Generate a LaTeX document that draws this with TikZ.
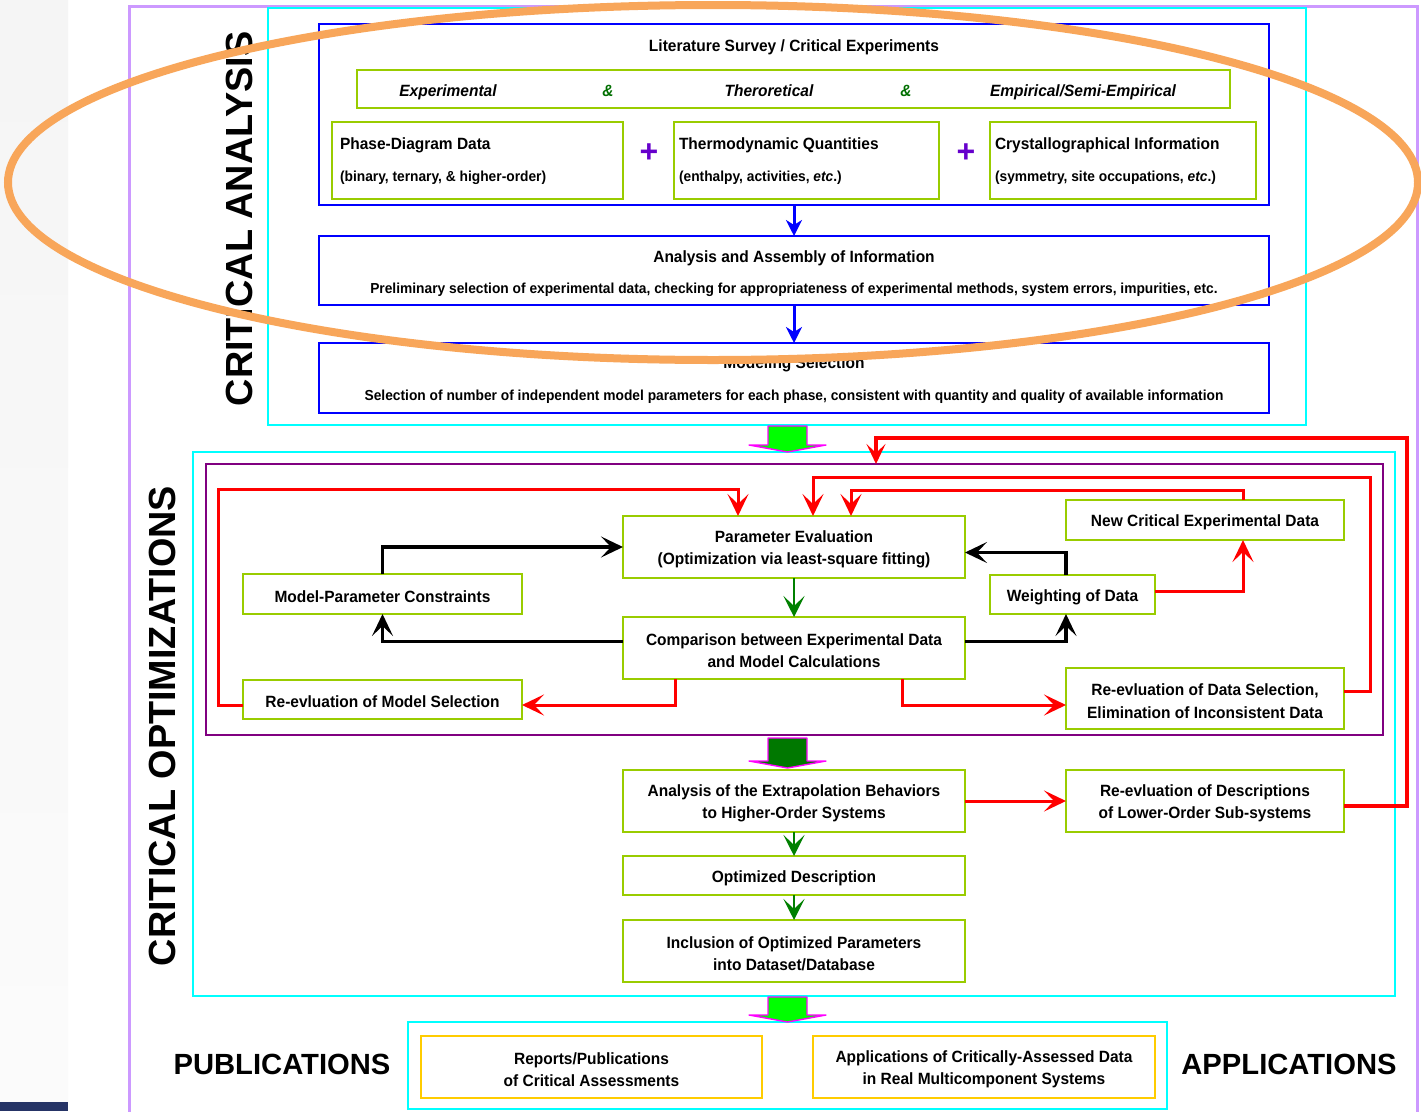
\documentclass[tikz,border=0pt]{standalone}
\usepackage{fontspec}
\setmainfont{Liberation Sans}
\newfontfamily\narrowsans{Liberation Sans}[FakeStretch=0.95]
\usetikzlibrary{calc,arrows.meta}

\definecolor{lavender}{HTML}{CC99FF}
\definecolor{cyanline}{HTML}{00FFFF}
\definecolor{boxblue}{HTML}{0000FF}
\definecolor{lime}{HTML}{99CC00}
\definecolor{plum}{HTML}{800080}
\definecolor{gold}{HTML}{FFCC00}
\definecolor{ringorange}{HTML}{F8A65A}
\definecolor{ampgreen}{HTML}{006F00}
\definecolor{plusviolet}{HTML}{6600CC}
\definecolor{flowgreen}{HTML}{008000}
\definecolor{blockgreen}{HTML}{00FF00}
\definecolor{darkblock}{HTML}{007800}
\definecolor{navybar}{HTML}{263466}
\definecolor{blockedge}{HTML}{FF00FF}

\tikzset{
  every node/.style={inner sep=0pt, outer sep=0pt},
  dims/.style args={#1 by #2}{minimum width=#1pt, minimum height=#2pt},
  boxtext/.style={font=\narrowsans\bfseries\fontsize{16.3}{22.5}\selectfont, align=center, text=black},
  inbox/.style={label={[boxtext, yshift=-2.5pt]center:{#1}}},
  headtext/.style={font=\narrowsans\bfseries\fontsize{16.3}{20}\selectfont, text=black, text height=11.7pt, text depth=0pt},
  smalltext/.style={font=\narrowsans\bfseries\fontsize{14.5}{18}\selectfont, text=black, text height=10.5pt, text depth=0pt},
  ittext/.style={font=\narrowsans\bfseries\itshape\fontsize{16.3}{20}\selectfont, text=black, text height=11.7pt, text depth=0pt},
  amp/.style={ittext, text=ampgreen},
  plussign/.style={font=\bfseries\fontsize{32}{32}\selectfont, text=plusviolet},
  bigtitle/.style={font=\bfseries\fontsize{37.8}{40}\selectfont, text=black, text height=27pt, text depth=0pt},
  sidetitle/.style={font=\bfseries\fontsize{29.2}{32}\selectfont, text=black, text height=21pt, text depth=0pt},
  bluebox/.style={draw=boxblue, line width=2pt},
  limebox/.style={draw=lime, line width=2.2pt, fill=white},
  goldbox/.style={draw=gold, line width=2.2pt},
  cyanframe/.style={draw=cyanline, line width=2pt},
  plumframe/.style={draw=plum, line width=2pt},
  redline/.style={draw=red, line width=3pt, -{Stealth[length=22pt,width=21pt,inset=10pt]}},
  redthick/.style={draw=red, line width=4pt, -{Stealth[length=20pt,width=19pt,inset=9pt]}},
  blkline/.style={draw=black, line width=3.2pt, -{Stealth[length=22pt,width=21pt,inset=10pt]}},
  grnline/.style={draw=flowgreen, line width=2.8pt, -{Stealth[length=21pt,width=21pt,inset=10pt]}},
  blueline/.style={draw=boxblue, line width=3pt, -{Stealth[length=16pt,width=16pt,inset=5pt]}},
  blockshape/.style={draw=blockedge, line width=1.4pt, line join=round},
}

\begin{document}
\begin{tikzpicture}[x=1pt,y=-1pt]
\useasboundingbox (0,0) rectangle (1421,1111);
\clip (0,0) rectangle (1421,1111);
\fill[white] (0,0) rectangle (1421,1111);

% faded slide background at the left edge
\shade[top color=black!4, bottom color=black!1.5] (0,0) rectangle (68,1102);
\fill[navybar] (0,1102) rectangle (68,1111);

% outer frame
\draw[lavender, line width=3pt] (129,1120) -- (129,6) -- (1417,6) -- (1417,1120);

% ---------------- critical analysis ----------------
\node[cyanframe, dims=1038 by 417] (anaframe) at (787,216.5) {};
\node[bigtitle, rotate=90] (anatitle) at (239,219) {CRITICAL ANALYSIS};

\node[bluebox, dims=950 by 181] (blueA) at (794,114.5) {};
\node[headtext] (survey) at (794,46) {Literature Survey / Critical Experiments};
\node[limebox, dims=873 by 38] (kinds) at (793.5,89) {};
\node[ittext] (kexp) at (448,91) {Experimental};
\node[amp] (amp1) at (608,91) {\&};
\node[ittext] (ktheo) at (769,91) {Theroretical};
\node[amp] (amp2) at (906,91) {\&};
\node[ittext] (kemp) at (1083,91) {Empirical/Semi-Empirical};

\node[limebox, dims=291 by 77] (phase) at (477.5,160.5) {};
\node[headtext, anchor=west] (phaseA) at (340,144) {Phase-Diagram Data};
\node[smalltext, anchor=west] (phaseB) at (340,176) {(binary, ternary, \& higher-order)};
\node[plussign] (plus1) at (649,153) {+};
\node[limebox, dims=265 by 77] (thermo) at (806.5,160.5) {};
\node[headtext, anchor=west] (thermoA) at (679,144) {Thermodynamic Quantities};
\node[smalltext, anchor=west] (thermoB) at (679,176) {(enthalpy, activities, \textit{etc}.)};
\node[plussign] (plus2) at (966,153) {+};
\node[limebox, dims=266 by 77] (cryst) at (1123,160.5) {};
\node[headtext, anchor=west] (crystA) at (995,144) {Crystallographical Information};
\node[smalltext, anchor=west] (crystB) at (995,176) {(symmetry, site occupations, \textit{etc}.)};

\node[bluebox, dims=950 by 69] (blueB) at (794,270.5) {};
\node[headtext] (assemA) at (794,257) {Analysis and Assembly of Information};
\node[smalltext] (assemB) at (794,288) {Preliminary selection of experimental data, checking for appropriateness of experimental methods, system errors, impurities, etc.};

\node[bluebox, dims=950 by 70] (blueC) at (794,378) {};
\node[headtext] (modelA) at (794,363) {Modeling Selection};
\node[smalltext] (modelB) at (794,395) {Selection of number of independent model parameters for each phase, consistent with quantity and quality of available information};

\draw[blueline] (blueA) -- (blueB);
\draw[blueline] (blueB) -- (blueC);

% ---------------- critical optimizations ----------------
\node[cyanframe, dims=1202 by 544] (optframe) at (794,724) {};
\node[bigtitle, rotate=90] (opttitle) at (162,726) {CRITICAL OPTIMIZATIONS};
\node[plumframe, dims=1177 by 271] (pbox) at (794.5,599.5) {};

\node[limebox, dims=342 by 62, inbox={Parameter Evaluation\\(Optimization via least-square fitting)}] (pe) at (794,547) {};
\node[limebox, dims=342 by 62, inbox={Comparison between Experimental Data\\and Model Calculations}] (cmp) at (794,648) {};
\node[limebox, dims=279 by 40, inbox={Model-Parameter Constraints}] (mpc) at (382.5,594) {};
\node[limebox, dims=279 by 39, inbox={Re-evluation of Model Selection}] (rms) at (382.5,699.5) {};
\node[limebox, dims=278 by 40, inbox={New Critical Experimental Data}] (nced) at (1205,520) {};
\node[limebox, dims=165 by 39, inbox={Weighting of Data}] (wd) at (1072.5,594.5) {};
\node[limebox, dims=278 by 61, inbox={Re-evluation of Data Selection,\\Elimination of Inconsistent Data}] (rds) at (1205,698.5) {};
\node[limebox, dims=342 by 62, inbox={Analysis of the Extrapolation Behaviors\\to Higher-Order Systems}] (aeb) at (794,801) {};
\node[limebox, dims=278 by 62, inbox={Re-evluation of Descriptions\\of Lower-Order Sub-systems}] (rdd) at (1205,801) {};
\node[limebox, dims=342 by 39, inbox={Optimized Description}] (od) at (794,875.5) {};
\node[limebox, dims=342 by 62, inbox={Inclusion of Optimized Parameters\\into Dataset/Database}] (inc) at (794,951) {};

% black feedback loops
\draw[blkline] (mpc.north) |- (pe.west);
\draw[blkline] ($(cmp.west)+(0,-6.5)$) -| (mpc.south);
\draw[blkline] ($(cmp.east)+(0,-6.5)$) -| ($(wd.south)+(-6.5,0)$);
\draw[blkline] ($(wd.north)+(-6.5,0)$) |- ($(pe.east)+(0,5.5)$);

% main green flow
\draw[grnline] (pe) -- (cmp);
\draw[grnline] (aeb) -- (od);
\draw[grnline] (od) -- (inc);

% red re-evaluation paths
\draw[redline] ($(cmp.south)+(-119,0)$) |- ($(rms.east)+(0,5.5)$);
\draw[redline] ($(rms.west)+(0,5.5)$) -| (218,489) -| ($(pe.north)+(-56,0)$);
\draw[redline] ($(cmp.south)+(108,0)$) |- ($(rds.west)+(0,6.5)$);
\draw[redline] ($(rds.east)+(0,-7)$) -| (1370,477) -| ($(pe.north)+(19,0)$);
\draw[redline] ($(wd.east)+(0,-3.5)$) -| ($(nced.south)+(38,0)$);
\draw[redline] ($(nced.north)+(38,0)$) |- ($(pe.north)+(57,-26)$) -- ($(pe.north)+(57,0)$);
\draw[redline] (aeb) -- (rdd);
\draw[redthick] ($(rdd.east)+(0,5)$) -| (1407,438) -| ($(pbox.north)+(81.5,0)$);

% ---------------- publications / applications ----------------
\node[cyanframe, dims=759 by 87] (outframe) at (787.5,1065.5) {};
\node[goldbox, dims=341 by 62, inbox={Reports/Publications\\of Critical Assessments}] (pubs) at (591.5,1067) {};
\node[goldbox, dims=342 by 62, inbox={Applications of Critically-Assessed Data\\in Real Multicomponent Systems}] (apps) at (984,1067) {};
\node[sidetitle] (pubtitle) at (282,1064) {PUBLICATIONS};
\node[sidetitle] (apptitle) at (1289,1064) {APPLICATIONS};

% block arrows between the stages
\filldraw[blockshape, fill=blockgreen] (768,426) -- (807,426) -- (807,445) -- (826,445) -- (787.5,452) -- (749,445) -- (768,445) -- cycle;
\filldraw[blockshape, fill=darkblock] (768,738) -- (807,738) -- (807,761) -- (826,761) -- (787.5,768) -- (749,761) -- (768,761) -- cycle;
\filldraw[blockshape, fill=blockgreen] (768,997) -- (807,997) -- (807,1015) -- (826,1015) -- (787.5,1022) -- (749,1015) -- (768,1015) -- cycle;

% highlight ring over the analysis stage
\draw[ringorange, line width=8pt] (713,182.5) ellipse [x radius=705, y radius=177.5];
\end{tikzpicture}
\end{document}
